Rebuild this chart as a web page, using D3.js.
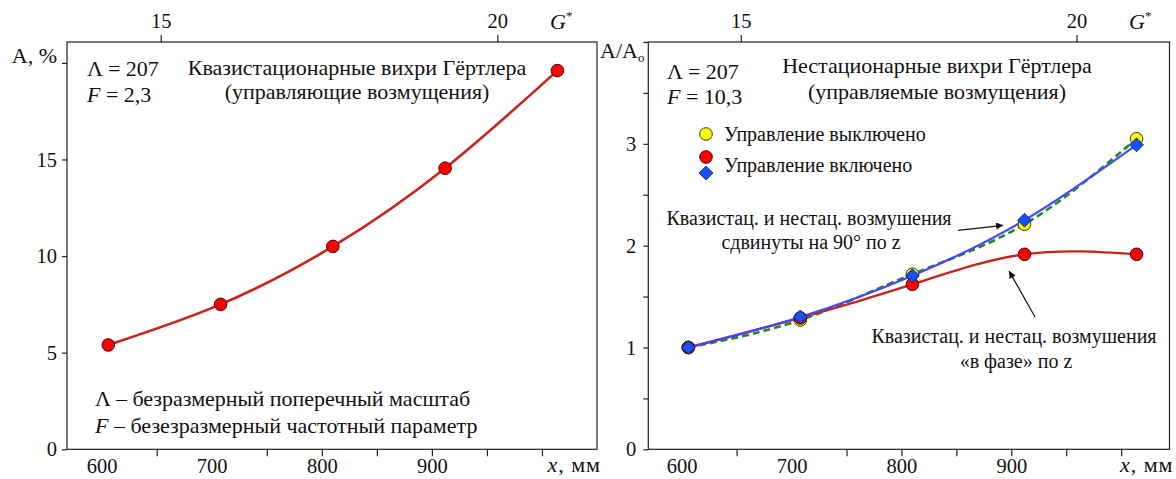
<!DOCTYPE html>
<html>
<head>
<meta charset="utf-8">
<script src="https://cdn.jsdelivr.net/npm/d3@7"></script>
<style>
  html, body { margin: 0; padding: 0; background: #fff; }
  svg { display: block; }
  text { font-family: "Liberation Serif", "Times New Roman", "DejaVu Serif", serif; fill: #111; }
</style>
</head>
<body>
<svg id="chart" width="1176" height="479"></svg>
<script>
// Streamwise stations, mm
const stations = [606, 708, 810, 912, 1014];
// Left panel: quasi-stationary Görtler vortex amplitude, %
const ampQuasi = [5.4, 7.5, 10.5, 14.55, 19.6];
// Right panel: relative amplitude A/A0 of non-stationary vortices
const ratioControlOff = [1.0, 1.27, 1.72, 2.21, 3.05];
const ratioInPhase    = [1.0, 1.29, 1.62, 1.915, 1.915];
const ratioShifted    = [1.0, 1.30, 1.705, 2.25, 2.99];
// Axis ticks
const xLabelTicks = [600, 700, 800, 900];
const xMarkTicks  = [650, 750, 800, 850, 900, 950, 1000];
const gTicks = [15, 20];
const ampTicks = [0, 5, 10, 15, 20];
const ratioTicks = [0, 0.5, 1, 1.5, 2, 2.5, 3, 3.5, 4];

const svg = d3.select("#chart");
const FS_TICK = 20.5;   // tick labels
const FS_BIG = 22;      // titles, parameters, axis names
const FS_SMALL = 20;    // legend and annotations

const panels = [
  { x0: 67, x1: 597, y0: 42, y1: 449.3, xDom: [568.5, 1050], gDom: [13.608, 21.481], yDom: [0, 21.08], gLabelX: 550 },
  { x0: 648.3, x1: 1169.5, y0: 42, y1: 449.3, xDom: [569.6, 1044], gDom: [13.622, 21.385], yDom: [0, 4.0], gLabelX: 1129 }
];

function frame(p, yTicks, yLabelFn, yPad) {
  const g = svg.append("g");
  const x = d3.scaleLinear().domain(p.xDom).range([p.x0, p.x1]);
  const gs = d3.scaleLinear().domain(p.gDom).range([p.x0, p.x1]);
  const y = d3.scaleLinear().domain(p.yDom).range([p.y1, p.y0]);

  // box
  g.append("rect").attr("x", p.x0).attr("y", p.y0)
    .attr("width", p.x1 - p.x0).attr("height", p.y1 - p.y0)
    .attr("fill", "none").attr("stroke", "#222").attr("stroke-width", 1.2);

  // bottom axis: tick marks
  const bm = g.append("g").attr("transform", `translate(0,${p.y1})`)
    .call(d3.axisBottom(x).tickValues(xMarkTicks).tickSize(7).tickFormat(""));
  // bottom axis: labels
  const bl = g.append("g").attr("transform", `translate(0,${p.y1})`)
    .call(d3.axisBottom(x).tickValues(xLabelTicks).tickSize(0).tickPadding(9).tickFormat(d3.format("d")));
  // top G* axis
  const ta = g.append("g").attr("transform", `translate(0,${p.y0})`)
    .call(d3.axisTop(gs).tickValues(gTicks).tickSize(7).tickPadding(7).tickFormat(d3.format("d")));
  // left axis
  const la = g.append("g").attr("transform", `translate(${p.x0},0)`)
    .call(d3.axisLeft(y).tickValues(yTicks).tickSize(5).tickPadding(yPad).tickFormat(yLabelFn));

  [bm, bl, ta, la].forEach(a => {
    a.select(".domain").remove();
    a.selectAll("line").attr("stroke", "#222").attr("stroke-width", 1.2);
    a.selectAll("text").attr("font-size", FS_TICK).attr("font-family", "Liberation Serif, serif").attr("fill", "#111");
  });

  // G* axis title
  const gt = g.append("text").attr("x", p.gLabelX).attr("y", 29)
    .attr("font-size", FS_BIG).attr("text-anchor", "start");
  gt.append("tspan").attr("font-style", "italic").text("G");
  gt.append("tspan").attr("font-size", 13).attr("dy", -9).text("*");

  // x axis title
  const xt = g.append("text").attr("x", p.x1 + 4).attr("y", 472)
    .attr("font-size", FS_BIG).attr("text-anchor", "end").attr("letter-spacing", 1);
  xt.append("tspan").attr("font-style", "italic").text("x");
  xt.append("tspan").text(", мм");

  return { g, x, y };
}

/* ---------- left panel ---------- */
{
  const p = panels[0];
  const { g, x, y } = frame(p, ampTicks, d => d === 20 ? "" : d3.format("d")(d), 5);

  g.append("text").attr("x", p.x0 - 10).attr("y", 63).attr("text-anchor", "end")
    .attr("font-size", FS_BIG).text("A, %");

  const pts = stations.map((s, i) => [s, ampQuasi[i]]);
  g.append("path").datum(pts)
    .attr("d", d3.line().x(d => x(d[0])).y(d => y(d[1])).curve(d3.curveNatural))
    .attr("fill", "none").attr("stroke", "#c8241a").attr("stroke-width", 2.6);
  g.selectAll("circle.pt").data(pts).join("circle")
    .attr("cx", d => x(d[0])).attr("cy", d => y(d[1])).attr("r", 6.3)
    .attr("fill", "#ff0000").attr("stroke", "#3a0a0a").attr("stroke-width", 1);

  g.append("text").attr("x", 87).attr("y", 76).attr("font-size", FS_BIG).text("Λ = 207");
  const t2 = g.append("text").attr("x", 87).attr("y", 102).attr("font-size", FS_BIG);
  t2.append("tspan").attr("font-style", "italic").text("F");
  t2.append("tspan").text(" = 2,3");

  g.append("text").attr("x", 357).attr("y", 75).attr("text-anchor", "middle")
    .attr("font-size", FS_BIG).text("Квазистационарные вихри Гёртлера");
  g.append("text").attr("x", 357).attr("y", 99).attr("text-anchor", "middle")
    .attr("font-size", FS_BIG).text("(управляющие возмущения)");

  g.append("text").attr("x", 95).attr("y", 406).attr("font-size", FS_BIG)
    .text("Λ – безразмерный поперечный масштаб");
  const n2 = g.append("text").attr("x", 95).attr("y", 433).attr("font-size", FS_BIG);
  n2.append("tspan").attr("font-style", "italic").text("F");
  n2.append("tspan").text(" – безезразмерный частотный параметр");
}

/* ---------- right panel ---------- */
{
  const p = panels[1];
  const { g, x, y } = frame(p, ratioTicks,
    d => (Number.isInteger(d) && d < 4) ? d3.format("d")(d) : "", 7);

  const yl = g.append("text").attr("x", 600).attr("y", 58).attr("font-size", FS_BIG);
  yl.append("tspan").text("A/A");
  yl.append("tspan").attr("font-size", 13).attr("dy", 4).text("o");

  const line = d3.line().x(d => x(d[0])).y(d => y(d[1])).curve(d3.curveNatural);
  const off = stations.map((s, i) => [s, ratioControlOff[i]]);
  const inPh = stations.map((s, i) => [s, ratioInPhase[i]]);
  const shf = stations.map((s, i) => [s, ratioShifted[i]]);

  g.append("path").datum(off).attr("d", line).attr("fill", "none")
    .attr("stroke", "#1f8a1f").attr("stroke-width", 2.6).attr("stroke-dasharray", "7,4");
  g.append("path").datum(inPh).attr("d", line).attr("fill", "none")
    .attr("stroke", "#c8241a").attr("stroke-width", 2.4);
  g.append("path").datum(shf).attr("d", line).attr("fill", "none")
    .attr("stroke", "#4646ff").attr("stroke-width", 2.2);

  // square rotated 45° for the diamond markers
  const diamond = d3.symbol().type(d3.symbolSquare).size(95);
  const diaAt = (cx, cy) => `translate(${cx},${cy}) rotate(45)`;

  g.selectAll("circle.off").data(off).join("circle")
    .attr("cx", d => x(d[0])).attr("cy", d => y(d[1])).attr("r", 6.3)
    .attr("fill", "#ffff00").attr("stroke", "#333").attr("stroke-width", 1);
  g.selectAll("circle.on").data(inPh).join("circle")
    .attr("cx", d => x(d[0])).attr("cy", d => y(d[1])).attr("r", 6.3)
    .attr("fill", "#ff0000").attr("stroke", "#3a0a0a").attr("stroke-width", 1);
  g.selectAll("path.dia").data(shf).join("path")
    .attr("transform", d => diaAt(x(d[0]), y(d[1])))
    .attr("d", diamond).attr("fill", "#1a4fff").attr("stroke", "#0a1a55").attr("stroke-width", 0.8);

  // legend
  g.append("circle").attr("cx", 706).attr("cy", 134).attr("r", 6.3)
    .attr("fill", "#ffff00").attr("stroke", "#333");
  g.append("text").attr("x", 724).attr("y", 141).attr("font-size", FS_SMALL).text("Управление выключено");
  g.append("circle").attr("cx", 706).attr("cy", 157).attr("r", 6.3)
    .attr("fill", "#ff0000").attr("stroke", "#3a0a0a");
  g.append("path").attr("transform", diaAt(706, 173)).attr("d", diamond)
    .attr("fill", "#1a4fff").attr("stroke", "#0a1a55").attr("stroke-width", 0.8);
  g.append("text").attr("x", 724).attr("y", 172).attr("font-size", FS_SMALL).text("Управление включено");

  // parameters and title
  g.append("text").attr("x", 667).attr("y", 79).attr("font-size", FS_BIG).text("Λ = 207");
  const f = g.append("text").attr("x", 667).attr("y", 104).attr("font-size", FS_BIG);
  f.append("tspan").attr("font-style", "italic").text("F");
  f.append("tspan").text(" = 10,3");
  g.append("text").attr("x", 937).attr("y", 73).attr("text-anchor", "middle")
    .attr("font-size", FS_BIG).text("Нестационарные вихри Гёртлера");
  g.append("text").attr("x", 937).attr("y", 99).attr("text-anchor", "middle")
    .attr("font-size", FS_BIG).text("(управляемые возмущения)");

  // annotations with arrows
  const defs = svg.append("defs");
  defs.append("marker").attr("id", "arrow").attr("viewBox", "0 0 10 10")
    .attr("refX", 10).attr("refY", 5).attr("markerWidth", 9).attr("markerHeight", 7)
    .attr("markerUnits", "userSpaceOnUse").attr("orient", "auto")
    .append("path").attr("d", "M0,0 L10,5 L0,10 z").attr("fill", "#111");

  g.append("text").attr("x", 809).attr("y", 225).attr("text-anchor", "middle")
    .attr("font-size", FS_SMALL).text("Квазистац. и нестац. возмушения");
  g.append("text").attr("x", 811).attr("y", 249).attr("text-anchor", "middle")
    .attr("font-size", FS_SMALL).text("сдвинуты на 90° по z");
  g.append("line")
    .attr("x1", x(851.6)).attr("y1", y(2.15)).attr("x2", x(892.6)).attr("y2", y(2.2))
    .attr("stroke", "#111").attr("stroke-width", 1.2).attr("marker-end", "url(#arrow)");

  g.append("text").attr("x", 1014).attr("y", 343).attr("text-anchor", "middle")
    .attr("font-size", FS_SMALL).text("Квазистац. и нестац. возмушения");
  g.append("text").attr("x", 1016).attr("y", 368).attr("text-anchor", "middle")
    .attr("font-size", FS_SMALL).text("«в фазе» по z");
  g.append("line")
    .attr("x1", x(921.6)).attr("y1", y(1.30)).attr("x2", x(898)).attr("y2", y(1.75))
    .attr("stroke", "#111").attr("stroke-width", 1.2).attr("marker-end", "url(#arrow)");
}
</script>
</body>
</html>
